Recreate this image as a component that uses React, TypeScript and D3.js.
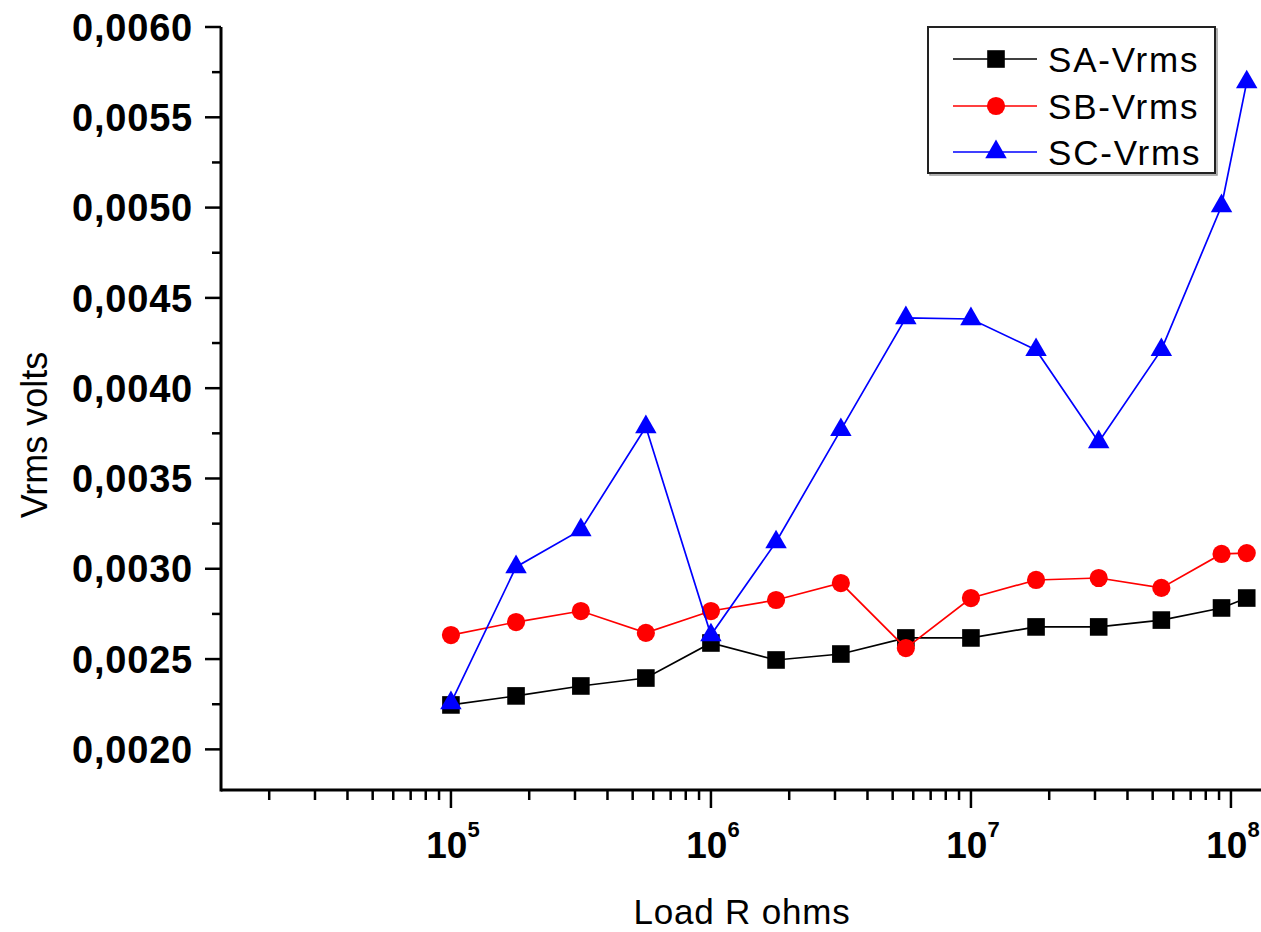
import React from "react";
import * as d3 from "d3";

const loadR = [1e5, 1.78e5, 3.16e5, 5.62e5, 1e6, 1.78e6, 3.16e6, 5.62e6, 1e7, 1.78e7, 3.1e7, 5.4e7, 9.2e7, 1.15e8];
const saVrms = [0.002246, 0.002296, 0.002351, 0.002395, 0.002589, 0.002495, 0.002528, 0.002617, 0.002617, 0.002678, 0.002678, 0.002716, 0.002783, 0.002838];
const sbVrms = [0.002633, 0.002705, 0.002766, 0.002645, 0.002766, 0.002827, 0.002921, 0.002561, 0.002838, 0.002938, 0.002949, 0.002894, 0.003082, 0.003087];
const scVrms = [0.002257, 0.00301, 0.003215, 0.003785, 0.002633, 0.003148, 0.003769, 0.004389, 0.004383, 0.004212, 0.003702, 0.004212, 0.005009, 0.005695];

const seriesNames = ["SA-Vrms", "SB-Vrms", "SC-Vrms"];
const seriesColors = ["#000000", "#ff0000", "#0000ff"];
const seriesSymbols = [d3.symbolSquare, d3.symbolCircle, d3.symbolTriangle];
const seriesSymbolSizes = [310, 260, 200];

const xMajorExps = [5, 6, 7, 8];
const yMajorTicks = [0.002, 0.0025, 0.003, 0.0035, 0.004, 0.0045, 0.005, 0.0055, 0.006];
const yMinorTicks = [0.00225, 0.00275, 0.00325, 0.00375, 0.00425, 0.00475, 0.00525, 0.00575];

const W = 1261;
const H = 932;
const left = 221;
const right = 1261;
const top = 27;
const bottom = 790;
const FONT = "'Liberation Sans', Arial, Helvetica, sans-serif";

export default function App() {
  const x = d3.scaleLog().domain([1.305e4, 1.305e8]).range([left, right]);
  const y = d3.scaleLinear().domain([0.001775, 0.006]).range([bottom, top]);

  const xMinor: number[] = [];
  for (let e = 4; e <= 8; e++) {
    for (let k = 2; k <= 9; k++) {
      const v = k * Math.pow(10, e);
      if (v > 1.305e4 && v < 1.305e8) xMinor.push(v);
    }
  }

  const allSeries = [saVrms, sbVrms, scVrms];
  const line = d3
    .line<number>()
    .x((_, i) => x(loadR[i]))
    .y((d) => y(d));

  const fmt = (v: number) => d3.format(".4f")(v).replace(".", ",");

  const legendX = 928;
  const legendY = 27;
  const legendW = 287;
  const legendH = 146;
  const legendRows = [59, 106, 152];

  return (
    <div style={{ position: "absolute", left: 0, top: 0 }}>
      <svg width={W} height={H} style={{ display: "block", background: "#fff" }} fontFamily={FONT}>
        <rect width={W} height={H} fill="#fff" />
        {/* axes */}
        <line x1={left} x2={right} y1={bottom} y2={bottom} stroke="#000" strokeWidth={3} />
        <line x1={left} x2={left} y1={top} y2={bottom + 1.5} stroke="#000" strokeWidth={3} />
        {/* y ticks */}
        {yMajorTicks.map((t) => (
          <g key={"ym" + t}>
            <line x1={left - 16} x2={left} y1={y(t)} y2={y(t)} stroke="#000" strokeWidth={2.5} />
            <text x={193} y={y(t)} dy="0.36em" textAnchor="end" fontSize={38} fontWeight="bold" letterSpacing={0.8}>
              {fmt(t)}
            </text>
          </g>
        ))}
        {yMinorTicks.map((t) => (
          <line key={"yn" + t} x1={left - 9} x2={left} y1={y(t)} y2={y(t)} stroke="#000" strokeWidth={2.5} />
        ))}
        {/* x ticks */}
        {xMajorExps.map((e) => {
          const v = Math.pow(10, e);
          return (
            <g key={"xm" + e}>
              <line x1={x(v)} x2={x(v)} y1={bottom} y2={bottom + 18} stroke="#000" strokeWidth={2.5} />
              <text x={x(v) + 2} y={858} textAnchor="middle" fontSize={37} fontWeight="bold">
                10
                <tspan fontSize={22} dy={-21}>
                  {e}
                </tspan>
              </text>
            </g>
          );
        })}
        {xMinor.map((v) => (
          <line key={"xn" + v} x1={x(v)} x2={x(v)} y1={bottom} y2={bottom + 10} stroke="#000" strokeWidth={2.5} />
        ))}
        {/* axis titles */}
        <text x={742} y={924} textAnchor="middle" fontSize={35} letterSpacing={0.8}>
          Load R ohms
        </text>
        <text transform={`translate(47,435) rotate(-90)`} textAnchor="middle" fontSize={36}>
          Vrms volts
        </text>
        {/* series */}
        {allSeries.map((s, si) => (
          <g key={"s" + si}>
            <path d={line(s) || ""} fill="none" stroke={seriesColors[si]} strokeWidth={1.7} />
            {s.map((v, i) => (
              <path
                key={i}
                transform={`translate(${x(loadR[i])},${y(v)})`}
                d={d3.symbol().type(seriesSymbols[si]).size(seriesSymbolSizes[si])() || ""}
                fill={seriesColors[si]}
              />
            ))}
          </g>
        ))}
        {/* legend */}
        <rect x={legendX + 2} y={legendY + 2} width={legendW} height={legendH} fill="none" stroke="#999" strokeWidth={1.5} />
        <rect x={legendX} y={legendY} width={legendW} height={legendH} fill="#fff" stroke="#222" strokeWidth={2} />
        {seriesNames.map((n, si) => (
          <g key={"l" + si}>
            <line x1={953} x2={1037} y1={legendRows[si]} y2={legendRows[si]} stroke={seriesColors[si]} strokeWidth={1.7} />
            <path
              transform={`translate(996,${legendRows[si]})`}
              d={d3.symbol().type(seriesSymbols[si]).size(seriesSymbolSizes[si])() || ""}
              fill={seriesColors[si]}
            />
            <text x={1048} y={legendRows[si]} dy="0.36em" fontSize={35} letterSpacing={1.8}>
              {n}
            </text>
          </g>
        ))}
      </svg>
    </div>
  );
}
